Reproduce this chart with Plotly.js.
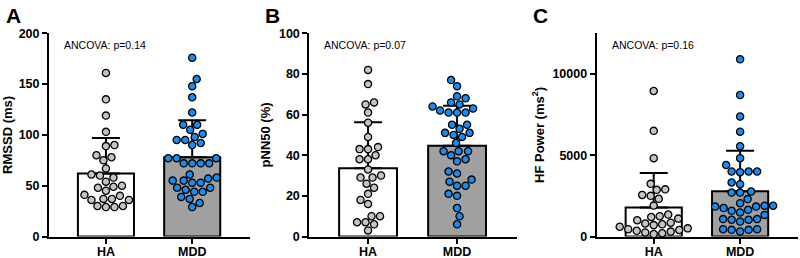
<!DOCTYPE html>
<html><head><meta charset="utf-8">
<script src="https://cdn.plot.ly/plotly-3.0.1.min.js"></script>
<style>html,body{margin:0;padding:0;background:#fff}#chart{width:800px;height:258px}</style>
</head><body><div id="chart"></div>
<script>
// ---- data ----
const groups = ['HA', 'MDD'];

const rmssdHA  = [161, 135, 119, 103, 90, 89, 78, 80, 75, 67, 60, 58, 61, 49, 50, 48, 54, 45, 40, 41, 36, 37, 36, 37, 29, 30, 29, 30];
const rmssdMDD = [176, 155, 148, 137, 122, 110, 110, 105, 101, 98, 95, 92, 95, 90, 77, 77, 77, 72, 72, 72, 72, 61, 55, 58, 53, 53, 57, 55, 44, 46, 44, 48, 48, 37, 39, 33, 29];
const rmssdMean = [62, 78];
const rmssdSD   = [35, 36.3];

const pnn50HA  = [82, 75, 65, 66, 61, 56, 49, 43, 43, 40, 44, 38, 38, 33, 29, 30, 29, 26, 24, 21, 18, 16, 10, 10, 6, 7, 7, 3];
const pnn50MDD = [77, 74, 68, 69, 66, 65, 62, 63, 64, 61, 61, 61, 55, 55, 53, 51, 50, 49, 51, 46, 40, 42, 42, 42, 37, 38, 31, 32, 28, 27, 25, 25, 21, 20, 14, 10, 6];
const pnn50Mean = [33.6, 44.7];
const pnn50SD   = [22.6, 19.6];

const hfHA  = [8950, 6500, 4820, 3240, 2900, 2870, 2560, 2500, 2320, 1900, 1350, 1250, 1200, 1100, 1000, 850, 800, 750, 700, 600, 500, 450, 400, 350, 300, 250, 200, 150];
const hfMDD = [10900, 8700, 7380, 6450, 5550, 4820, 4400, 3960, 4000, 4000, 4000, 3220, 3320, 2700, 2700, 2770, 2300, 1890, 2050, 1750, 1890, 1640, 1580, 1840, 1840, 1330, 1480, 1030, 1030, 1070, 1070, 920, 410, 450, 450, 410, 310];
const hfMean = [1790, 2790];
const hfSD   = [2110, 2480];

const panelLetters = ['A', 'B', 'C'];
const pTexts = ['ANCOVA: p=0.14', 'ANCOVA: p=0.07', 'ANCOVA: p=0.16'];
const yTitles = ['RMSSD (ms)', 'pNN50 (%)', 'HF Power (ms<sup>2</sup>)'];
const yTicks = [[0, 50, 100, 150, 200], [0, 20, 40, 60, 80, 100], [0, 5000, 10000]];
const yTickText = [['0', '50', '100', '150', '200'], ['0', '20', '40', '60', '80', '100'], ['0', '5000', '10000']];

// ---- layout geometry ----
const W = 800, H = 258;
const plotTop = 33.3, plotBottom = 236.5;
const xDom = [[49, 250], [309.3, 516.7], [596.7, 798]];
const letterX = [4, 263, 531];
const xRange = [-0.66, 1.67];
const yRanges = [[0, 200], [0, 100], [0, 12500]];
const yDomain = [(H - plotBottom) / H, (H - plotTop) / H];

const panels = [
  {ha: rmssdHA, mdd: rmssdMDD, mean: rmssdMean, sd: rmssdSD},
  {ha: pnn50HA, mdd: pnn50MDD, mean: pnn50Mean, sd: pnn50SD},
  {ha: hfHA, mdd: hfMDD, mean: hfMean, sd: hfSD}
];

// simple beeswarm: offsets computed from values so points don't overlap
function swarm(vals, yMax, hPx, xUnitPx, D) {
  const placed = [];
  const order = vals.map((v, i) => i).sort((a, b) => vals[a] - vals[b]);
  const out = new Array(vals.length);
  let flip = 1;
  for (const i of order) {
    const y = vals[i] / yMax * hPx;
    let best = null;
    for (let k = 0; k < 300 && best === null; k++) {
      const cands = k === 0 ? [0] : [flip * k * 0.5, -flip * k * 0.5];
      for (const c of cands) {
        if (placed.every(p => Math.hypot(p.x - c, p.y - y) >= D)) { best = c; break; }
      }
    }
    if (best !== 0) flip = -flip;
    placed.push({x: best, y});
    out[i] = best / xUnitPx;
  }
  return out;
}

const font = 'Liberation Sans, Arial, Helvetica, sans-serif';
const traces = [];
const layout = {
  width: W, height: H,
  margin: {l: 0, r: 0, t: 0, b: 0},
  paper_bgcolor: '#fff', plot_bgcolor: '#fff',
  showlegend: false,
  bargap: 0,
  annotations: []
};

panels.forEach((p, k) => {
  const sfx = k === 0 ? '' : String(k + 1);
  const xa = 'x' + sfx, ya = 'y' + sfx;
  const hPx = plotBottom - plotTop;
  const xUnitPx = (xDom[k][1] - xDom[k][0]) / (xRange[1] - xRange[0]);
  const yMax = yRanges[k][1];

  traces.push({
    type: 'bar', x: [0, 1], y: p.mean, width: 0.65, xaxis: xa, yaxis: ya,
    marker: {color: ['#ffffff', '#a0a0a0'], line: {color: '#000', width: 2}},
    error_y: {type: 'data', symmetric: false, array: p.sd, arrayminus: [0, 0],
              color: '#000', thickness: 2, width: 14},
    hoverinfo: 'skip'
  });
  const offHA = swarm(p.ha, yMax, hPx, xUnitPx, 8.4);
  const offMDD = swarm(p.mdd, yMax, hPx, xUnitPx, 8.4);
  traces.push({
    type: 'scatter', mode: 'markers', xaxis: xa, yaxis: ya, cliponaxis: false,
    x: offHA.map(o => 0 + o), y: p.ha,
    marker: {size: 7.2, color: '#c4c4c4', line: {color: '#000', width: 1.3}}
  });
  traces.push({
    type: 'scatter', mode: 'markers', xaxis: xa, yaxis: ya, cliponaxis: false,
    x: offMDD.map(o => 1 + o), y: p.mdd,
    marker: {size: 7.2, color: '#1a8cf0', line: {color: '#000', width: 1.3}}
  });

  layout['xaxis' + sfx] = {
    domain: [xDom[k][0] / W, xDom[k][1] / W], range: xRange, anchor: ya,
    tickvals: [0, 1], ticktext: groups,
    showline: true, linewidth: 2, linecolor: '#000',
    ticks: 'outside', ticklen: 5, tickwidth: 2, tickcolor: '#000',
    ticklabelstandoff: -3,
    showgrid: false, zeroline: false, fixedrange: true,
    tickfont: {family: font, size: 12.5, color: '#000', weight: 'bold'}
  };
  layout['yaxis' + sfx] = {
    domain: yDomain, range: yRanges[k], anchor: xa,
    tickvals: yTicks[k], ticktext: yTickText[k],
    showline: true, linewidth: 2, linecolor: '#000',
    ticks: 'outside', ticklen: 5, tickwidth: 2, tickcolor: '#000',
    showgrid: false, zeroline: false, fixedrange: true,
    tickfont: {family: font, size: 12.5, color: '#000', weight: 'bold'},
    title: {text: yTitles[k], font: {family: font, size: 13, color: '#000', weight: 'bold'}, standoff: 5}
  };

  layout.annotations.push({
    xref: 'paper', yref: 'paper', x: letterX[k] / W, y: 1 - 2 / H,
    xanchor: 'left', yanchor: 'top', showarrow: false, text: panelLetters[k],
    font: {family: font, size: 21, color: '#000', weight: 'bold'}
  });
  layout.annotations.push({
    xref: 'paper', yref: 'paper', x: (xDom[k][0] + 13) / W, y: 1 - 45.5 / H,
    xanchor: 'left', yanchor: 'middle', showarrow: false, text: pTexts[k],
    font: {family: font, size: 10.5, color: '#000'}
  });
});

Plotly.newPlot('chart', traces, layout, {displayModeBar: false, staticPlot: true});
</script>
</body></html>
